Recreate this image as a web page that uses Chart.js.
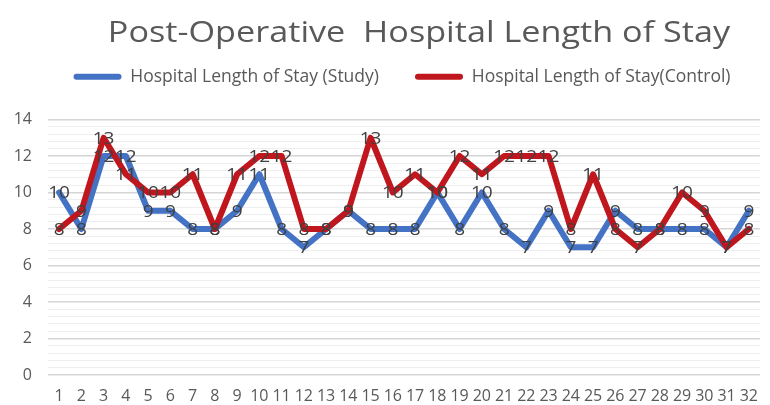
<!DOCTYPE html>
<html>
<head>
<meta charset="utf-8">
<style>
html,body{margin:0;padding:0;background:#fff;}
#wrap{width:770px;height:405px;position:relative;}
</style>
<script src="https://cdn.jsdelivr.net/npm/chart.js@4/dist/chart.umd.min.js"></script>
</head>
<body>
<div id="wrap"><canvas id="c" width="770" height="405"></canvas></div>
<script>
const titleText = "Post-Operative  Hospital Length of Stay";
const categories = ["1","2","3","4","5","6","7","8","9","10","11","12","13","14","15","16","17","18","19","20","21","22","23","24","25","26","27","28","29","30","31","32"];
const studyLabel = "Hospital Length of Stay (Study)";
const controlLabel = "Hospital Length of Stay(Control)";
const studyValues = [10,8,12,12,9,9,8,8,9,11,8,7,8,9,8,8,8,10,8,10,8,7,9,7,7,9,8,8,8,8,7,9];
const controlValues = [8,9,13,11,10,10,11,8,11,12,12,8,8,9,13,10,11,10,12,11,12,12,12,8,11,8,7,8,10,9,7,8];
const yMin = 0, yMax = 14, yMajorStep = 2, yMinorStep = 0.4;

const FONT = "'Open Sans', Lato, sans-serif";
const GREY = "#595959";

const titlePlugin = {
  id: 'customTitle',
  afterDraw(chart) {
    const ctx = chart.ctx;
    ctx.save();
    ctx.font = "30px " + FONT;
    ctx.fillStyle = GREY;
    ctx.textAlign = "center";
    ctx.textBaseline = "middle";
    ctx.translate(419, 33);
    ctx.scale(1.14, 1);
    ctx.fillText(titleText, 0, 0);
    ctx.restore();
  }
};

const labelPlugin = {
  id: 'valueLabels',
  afterDatasetsDraw(chart) {
    const ctx = chart.ctx;
    ctx.save();
    ctx.font = "17px " + FONT;
    ctx.fillStyle = "#404040";
    ctx.textAlign = "center";
    ctx.textBaseline = "middle";
    chart.data.datasets.forEach((ds, i) => {
      const meta = chart.getDatasetMeta(i);
      meta.data.forEach((pt, j) => {
        ctx.save();
        ctx.translate(pt.x, pt.y + 1);
        ctx.scale(1.12, 1);
        ctx.fillText(String(ds.data[j]), 0, 0);
        ctx.restore();
      });
    });
    ctx.restore();
  }
};

const legendTweak = {
  id: 'legendTweak',
  beforeInit(chart) {
    const orig = chart.legend.fit;
    chart.legend.fit = function() {
      orig.bind(chart.legend)();
      this.height += 24;
    };
  },
  afterLayout(chart) {
    chart.legend.left += 17;
    chart.legend.right += 17;
  }
};

const isMajor = v => Math.abs(v / yMajorStep - Math.round(v / yMajorStep)) < 1e-6;

new Chart(document.getElementById('c'), {
  type: 'line',
  data: {
    labels: categories,
    datasets: [
      { label: studyLabel, data: studyValues, borderColor: "#4472C4", backgroundColor: "#4472C4",
        borderWidth: 6, pointRadius: 0, tension: 0, order: 1, borderJoinStyle: 'round', borderCapStyle: 'round' },
      { label: controlLabel, data: controlValues, borderColor: "#C0161E", backgroundColor: "#C0161E",
        borderWidth: 6, pointRadius: 0, tension: 0, order: 0, borderJoinStyle: 'round', borderCapStyle: 'round' }
    ]
  },
  options: {
    responsive: false,
    animation: false,
    layout: { padding: { top: 32, right: 0, left: 0, bottom: 0 } },
    plugins: {
      title: { display: false },
      tooltip: { enabled: false },
      legend: {
        display: true,
        position: 'top',
        labels: {
          boxWidth: 48, boxHeight: 6, padding: 36, useBorderRadius: true, borderRadius: 3,
          color: GREY, font: { family: FONT, size: 17.5 },
          sort: (a, b) => a.datasetIndex - b.datasetIndex,
          generateLabels(chart) {
            const items = Chart.defaults.plugins.legend.labels.generateLabels(chart);
            items.forEach(it => { it.lineWidth = 0; it.strokeStyle = 'rgba(0,0,0,0)'; it.borderRadius = 3; });
            return items;
          }
        }
      }
    },
    scales: {
      x: {
        offset: true,
        afterFit(scale) { scale.height = 30; },
        grid: { display: false, drawTicks: false },
        border: { display: false },
        ticks: { autoSkip: false, maxRotation: 0, minRotation: 0, padding: 12, color: GREY, font: { family: FONT, size: 16 } }
      },
      y: {
        min: yMin, max: yMax,
        afterFit(scale) { scale.width = 48; },
        border: { display: false },
        grid: {
          drawTicks: false,
          color: ctx => isMajor(ctx.tick.value) ? "#d6d6d6" : "#eeeeee",
          lineWidth: ctx => isMajor(ctx.tick.value) ? 1.5 : 1
        },
        ticks: {
          stepSize: yMinorStep,
          autoSkip: false,
          padding: 16,
          color: GREY,
          font: { family: FONT, size: 16 },
          callback: v => isMajor(v) ? String(Math.round(v)) : ""
        }
      }
    }
  },
  plugins: [titlePlugin, labelPlugin, legendTweak]
});
</script>
</body>
</html>
